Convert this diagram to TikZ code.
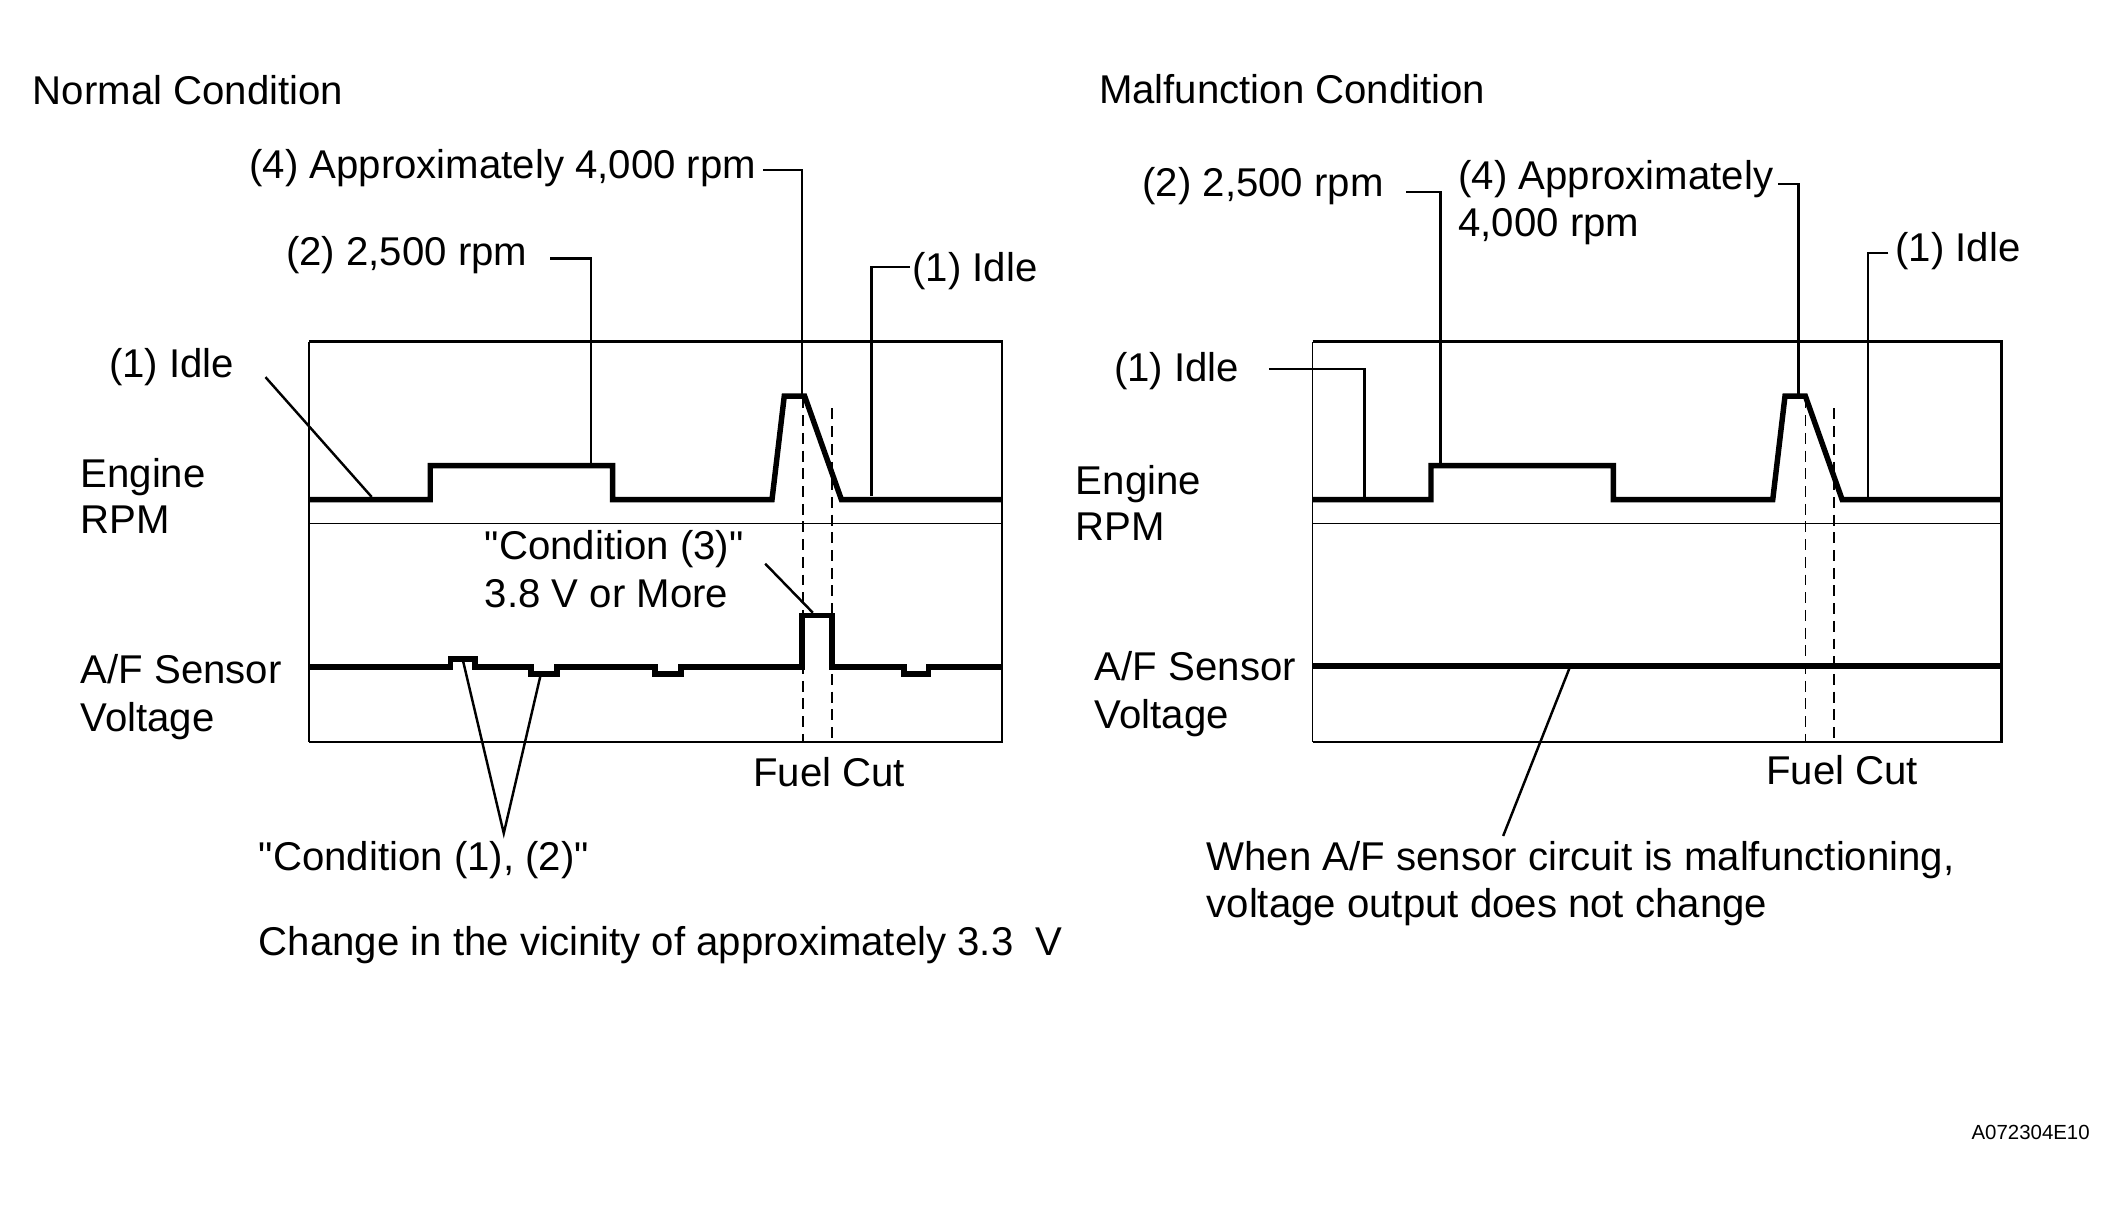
\documentclass[tikz,border=0pt]{standalone}
\usepackage{fontspec}
\setmainfont{Liberation Sans}
\begin{document}
\begin{tikzpicture}[x=1pt,y=-1pt,
  lbl/.style={anchor=base west, inner sep=0pt, font=\fontsize{29.5}{35}\selectfont},
  tiny/.style={anchor=base east, inner sep=0pt, font=\fontsize{15}{18}\selectfont},
  trace/.style={line width=4pt, line join=miter},
  frame/.style={line width=2pt},
  thinframe/.style={line width=1.1pt},
  lead/.style={line width=1.8pt},
  cut/.style={line width=1.3pt, dash pattern=on 8pt off 5pt}]
\useasboundingbox (0,0) rectangle (1560,889.4);

% ===================== LEFT PANEL =====================
\node[lbl] (nc) at (24,77) {Normal Condition};
\node[lbl] (l4) at (183,131) {(4) Approximately 4,000 rpm};
\node[lbl] (l2) at (210,195) {(2) 2,500 rpm};
\node[lbl] (l1r) at (670,207) {(1) Idle};
\node[lbl] (l1l) at (80,277) {(1) Idle};
\node[lbl] (le1) at (59,358) {Engine};
\node[lbl] (le2) at (59,392) {RPM};
\node[lbl] (lc3a) at (356,411) {\textquotedbl Condition (3)\textquotedbl};
\node[lbl] (lc3b) at (356,446) {3.8 V or More};
\node[lbl] (la1) at (59,502) {A/F Sensor};
\node[lbl] (la2) at (59,537) {Voltage};
\node[lbl] (lfc) at (553,578) {Fuel Cut};
\node[lbl] (lc12) at (190,639) {\textquotedbl Condition (1), (2)\textquotedbl};
\node[lbl] (lch) at (190,702) {Change in the vicinity of approximately 3.3\ \ V};

% frame
\draw[frame] (227,251) -- (736,251) -- (736,545) -- (227,545);
\draw[thinframe] (227,251) -- (227,545);
\draw[thinframe] (227,384.5) -- (736,384.5);

% engine rpm trace
\draw[trace] (227,367) -- (316,367) -- (316,342) -- (450,342) -- (450,367)
  -- (567,367) -- (576,291) -- (591,291) -- (618,367) -- (736,367);
% A/F trace
\draw[trace] (227,490) -- (331,490) -- (331,484) -- (349,484) -- (349,490)
  -- (390,490) -- (390,495) -- (409,495) -- (409,490)
  -- (481,490) -- (481,495) -- (500,495) -- (500,490)
  -- (589,490) -- (589,452) -- (611,452) -- (611,490)
  -- (664,490) -- (664,495) -- (682,495) -- (682,490) -- (736,490);
% fuel cut dashes
\coordinate (lda) at (590,292); \coordinate (ldab) at (590,545);
\coordinate (ldb) at (611,300); \coordinate (ldbb) at (611,545);
\draw[cut] (lda) -- (ldab);
\draw[cut] (ldb) -- (ldbb);

% leaders
\coordinate (p4) at (589,291);
\draw[lead] (l4.base east) ++(5,-6) coordinate (l4e) -- (589,125) -- (p4);
\coordinate (p2) at (434,342);
\draw[lead] (404,190) -- (434,190) -- (p2);
\coordinate (p1r) at (640,364);
\draw[lead] (668,196) -- (640,196) -- (p1r);
\coordinate (p1l) at (273,365);
\draw[lead] (195,277) -- (p1l);
\coordinate (p3) at (597,450);
\draw[lead] (562,414) -- (p3);
\coordinate (apex) at (370,612);
\coordinate (bu) at (340,485);
\coordinate (bd) at (397,496);
\draw[lead] (bu) -- (apex) -- (bd);

% ===================== RIGHT PANEL =====================
\node[lbl] (mc) at (807,76) {Malfunction Condition};
\node[lbl] (r2) at (839,144) {(2) 2,500 rpm};
\node[lbl] (r4a) at (1071,139) {(4) Approximately};
\node[lbl] (r4b) at (1071,174) {4,000 rpm};
\node[lbl] (r1r) at (1392,192) {(1) Idle};
\node[lbl] (r1l) at (818,280) {(1) Idle};
\node[lbl] (re1) at (790,363) {Engine};
\node[lbl] (re2) at (790,397) {RPM};
\node[lbl] (ra1) at (804,500) {A/F Sensor};
\node[lbl] (ra2) at (804,535) {Voltage};
\node[lbl] (rfc) at (1297,576) {Fuel Cut};
\node[lbl] (rw1) at (886,639) {When A/F sensor circuit is malfunctioning,};
\node[lbl] (rw2) at (886,674) {voltage output does not change};

\draw[frame] (964,251) -- (1470,251) -- (1470,545) -- (964,545);
\draw[thinframe] (964,251) -- (964,545);
\draw[thinframe] (964,384.5) -- (1470,384.5);

\draw[trace] (964,367) -- (1051,367) -- (1051,342) -- (1185,342) -- (1185,367)
  -- (1302,367) -- (1311,291) -- (1326,291) -- (1353,367) -- (1470,367);
\draw[trace] (964,489) -- (1470,489);

\coordinate (rda) at (1326,292); \coordinate (rdab) at (1326,545);
\coordinate (rdb) at (1347,300); \coordinate (rdbb) at (1347,545);
\draw[cut] (rda) -- (rdab);
\draw[cut] (rdb) -- (rdbb);

\coordinate (q1l) at (1002,366);
\draw[lead] (932,271) -- (1002,271) -- (q1l);
\coordinate (q2) at (1058,342);
\draw[lead] (1033,141) -- (1058,141) -- (q2);
\coordinate (q4) at (1321,291);
\draw[lead] (1306,135) -- (1321,135) -- (q4);
\coordinate (q1r) at (1372,365);
\draw[lead] (1387,186) -- (1372,186) -- (q1r);
\coordinate (qa) at (1153,490);
\coordinate (qw) at (1104,614);
\draw[lead] (qa) -- (qw);

\node[tiny] (code) at (1535,837) {A072304E10};
\end{tikzpicture}
\end{document}
